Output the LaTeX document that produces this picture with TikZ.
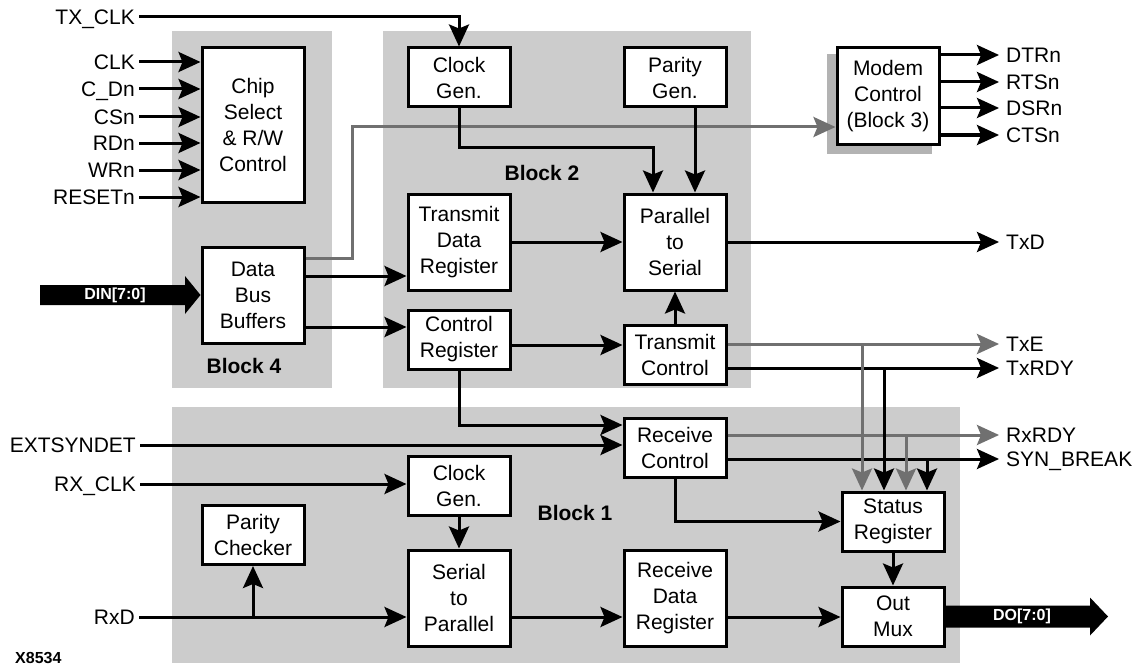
\documentclass[tikz,border=0pt]{standalone}
\usepackage{fontspec}
\setmainfont{Liberation Sans}
\usetikzlibrary{arrows.meta,calc}
\definecolor{blockgray}{HTML}{CCCCCC}
\definecolor{shadowgray}{HTML}{B3B3B3}
\definecolor{wiregray}{HTML}{707070}
\begin{document}
\begin{tikzpicture}[x=1pt,y=-1pt,
  font=\fontsize{21}{26}\selectfont,
  box/.style={draw=black, line width=3pt, fill=white, inner sep=0pt,
    minimum width=102pt, minimum height=59pt, align=center},
  tall/.style={box, minimum height=96pt},
  wire/.style={line width=3pt, -{Stealth[length=22pt,width=20pt,inset=4pt]}},
  gwire/.style={wire, color=wiregray},
  lab/.style={inner xsep=4pt, inner ysep=0pt, text height=15pt, text depth=0pt},
  llab/.style={lab, anchor=east},
  rlab/.style={lab, anchor=west, inner xsep=7pt},
  blocklab/.style={font=\fontsize{21}{26}\selectfont\bfseries, inner sep=0pt},
  fattext/.style={font=\fontsize{16}{18}\selectfont\bfseries, text=white, inner sep=0pt},
]
\useasboundingbox (0,0) rectangle (1145,666);
\fill[white] (0,0) rectangle (1145,666);

% gray blocks
\fill[blockgray] (172,31) rectangle (332,388);
\fill[blockgray] (383,31) rectangle (751,388);
\fill[blockgray] (172,407) rectangle (960,663);

\node[blocklab] (b4) at (244,366) {Block 4};
\node[blocklab] (b2) at (542,173) {Block 2};
\node[blocklab] (b1) at (575,513) {Block 1};

% boxes
\node[box, minimum height=154pt] (chip) at (253,125) {Chip\\Select\\\& R/W\\Control};
\node[tall] (dbb) at (253,295) {Data\\Bus\\Buffers};
\node[box] (cgt) at (459,77.5) {Clock\\Gen.};
\node[box] (pgen) at (675,77.5) {Parity\\Gen.};
\node[tall] (tdr) at (459,242) {Transmit\\Data\\Register};
\node[tall] (p2s) at (675,242) {Parallel\\to\\Serial};
\node[box] (creg) at (459,339.5) {Control\\Register};
\node[box] (tctl) at (675,354.5) {Transmit\\Control};
\path (888,96) node[tall, draw=none, fill=none] (mpos) {};
\fill[shadowgray] ([shift={(-9,8)}]mpos.north west) rectangle ([shift={(-9,8)}]mpos.south east);
\node[tall] (modem) at (888,96) {Modem\\Control\\(Block 3)};
\node[box] (rctl) at (675,447.5) {Receive\\Control};
\node[box] (cgr) at (459,485.5) {Clock\\Gen.};
\node[box] (pchk) at (253,535) {Parity\\Checker};
\node[tall] (s2p) at (459,598) {Serial\\to\\Parallel};
\node[tall] (rdr) at (675,598) {Receive\\Data\\Register};
\node[box] (stat) at (893,521.5) {Status\\Register};
\node[box] (omux) at (893,616.5) {Out\\Mux};

% left labels
\node[llab] (txclk) at (139,17) {TX\_CLK};
\node[llab] (clk) at (139,62) {CLK};
\node[llab] (cdn) at (139,89) {C\_Dn};
\node[llab] (csn) at (139,117) {CSn};
\node[llab] (rdn) at (139,143) {RDn};
\node[llab] (wrn) at (139,170) {WRn};
\node[llab] (rstn) at (139,197) {RESETn};
\node[llab] (extsyn) at (140,445) {EXTSYNDET};
\node[llab] (rxclk) at (140,484) {RX\_CLK};
\node[llab] (rxd) at (139,617) {RxD};

% right labels
\node[rlab] (dtrn) at (999,55) {DTRn};
\node[rlab] (rtsn) at (999,82) {RTSn};
\node[rlab] (dsrn) at (999,108) {DSRn};
\node[rlab] (ctsn) at (999,135) {CTSn};
\node[rlab] (txd) at (999,242) {TxD};
\node[rlab] (txe) at (999,344) {TxE};
\node[rlab] (txrdy) at (999,368) {TxRDY};
\node[rlab] (rxrdy) at (999,435) {RxRDY};
\node[rlab] (synb) at (999,459) {SYN\_BREAK};

% inputs to chip select
\draw[wire] (txclk.east) -| (cgt.north);
\foreach \n in {clk,cdn,csn,rdn,wrn,rstn}
  \draw[wire] (\n.east) -- (\n.east -| chip.west);

% DIN fat arrow
\fill[black] (40,285) -- (185,285) -- (185,276) -- (dbb.west) -- (185,314) -- (185,305) -- (40,305) -- cycle;
\node[fattext] (din) at (115,295) {DIN[7:0]};

% data bus buffers outputs
\draw[wire] (dbb.east |- 0,276) -- (tdr.west |- 0,276);
\draw[wire] (dbb.east |- 0,327) -- (creg.west |- 0,327);
\draw[gwire] (dbb.east |- 0,258) -- (352,258) -- (352,127) -- (modem.west |- 0,127);

% block 2
\draw[wire] (cgt.south) -- (cgt.south |- 0,147) -| ([xshift=-22pt]p2s.north);
\draw[wire] ([xshift=20pt]pgen.south) -- ([xshift=20pt]p2s.north);
\draw[wire] (tdr.east) -- (p2s.west);
\draw[wire] (creg.east |- 0,345) -- (tctl.west |- 0,345);
\draw[wire] (tctl.north) -- (p2s.south);
\draw[wire] (p2s.east) -- (txd.west);
\draw[gwire] (tctl.east |- txe.west) -- (txe.west);
\draw[wire] (tctl.east |- txrdy.west) -- (txrdy.west);

% modem outputs
\foreach \n in {dtrn,rtsn,dsrn,ctsn}
  \draw[wire] (modem.east |- \n.west) -- (\n.west);

% block 1
\draw[wire] (creg.south) |- (rctl.west |- 0,425);
\draw[wire] (extsyn.east) -- (extsyn.east -| rctl.west);
\draw[gwire] (rctl.east |- rxrdy.west) -- (rxrdy.west);
\draw[wire] (rctl.east |- synb.west) -- (synb.west);
\draw[wire] (rctl.south) |- (stat.west);
\draw[wire] (rxclk.east) -- (rxclk.east -| cgr.west);
\draw[wire] (cgr.south) -- (s2p.north);
\draw[wire] (rxd.east) -- (rxd.east -| s2p.west);
\draw[wire] (rxd.east -| pchk.south) -- (pchk.south);
\draw[wire] (s2p.east |- 0,617) -- (rdr.west |- 0,617);
\draw[wire] (rdr.east |- 0,617) -- (omux.west |- 0,617);
\draw[wire] (stat.south) -- (omux.north);

% drops into status register
\draw[gwire] (txe.west -| 862,0) -- (stat.north -| 862,0);
\draw[wire] (txrdy.west -| 884,0) -- (stat.north -| 884,0);
\draw[gwire] (rxrdy.west -| 906,0) -- (stat.north -| 906,0);
\draw[wire] (synb.west -| 927,0) -- (stat.north -| 927,0);

% DO fat arrow
\fill[black] (omux.east |- 0,605.5) -- (1090,605.5) -- (1090,597.5) -- (1108,616.5) -- (1090,635.5) -- (1090,627.5) -- (omux.east |- 0,627.5) -- cycle;
\node[fattext] (dout) at (1022,616.5) {DO[7:0]};

\node[font=\fontsize{16}{18}\selectfont\bfseries, anchor=west, inner sep=0pt] (fig) at (15,658) {X8534};
\end{tikzpicture}
\end{document}
